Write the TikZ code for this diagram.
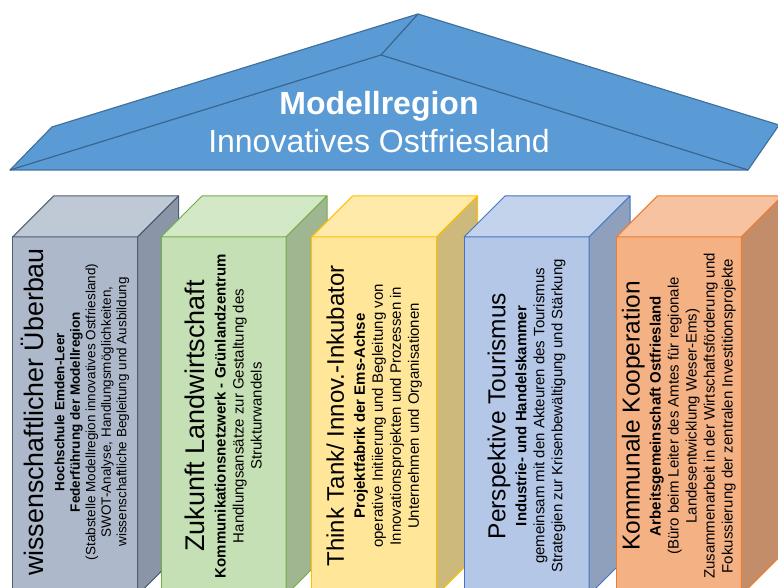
\documentclass[tikz,border=0pt]{standalone}
\usepackage{fontspec}
\setmainfont{Liberation Sans}
\usepackage{tikz}

\definecolor{dach}{HTML}{5B9BD5}
\definecolor{dachrand}{HTML}{41719C}
\definecolor{grauF}{HTML}{ADB9CA}\definecolor{grauD}{HTML}{BFC9D6}\definecolor{grauS}{HTML}{8A96A8}\definecolor{grauR}{HTML}{4F5D70}
\definecolor{gruenF}{HTML}{C5E0B4}\definecolor{gruenD}{HTML}{D3E8C7}\definecolor{gruenS}{HTML}{9FB690}\definecolor{gruenR}{HTML}{70AD47}
\definecolor{gelbF}{HTML}{FFE699}\definecolor{gelbD}{HTML}{FFEAAA}\definecolor{gelbS}{HTML}{CCB97B}\definecolor{gelbR}{HTML}{FFC000}
\definecolor{blauF}{HTML}{B4C7E7}\definecolor{blauD}{HTML}{C4D3EC}\definecolor{blauS}{HTML}{8FA0BC}\definecolor{blauR}{HTML}{4472C4}
\definecolor{orangeF}{HTML}{F4B183}\definecolor{orangeD}{HTML}{F6C29F}\definecolor{orangeS}{HTML}{C38D69}\definecolor{orangeR}{HTML}{ED7D31}

\newcommand{\titel}[2][27]{{\fontsize{#1}{#1}\selectfont #2}}

\tikzset{
  saeulentext/.style={rotate=90,align=center,inner sep=0pt,font=\fontsize{15}{18}\selectfont},
  dachtext/.style={align=center,inner sep=0pt,text=white,font=\fontsize{32}{38}\selectfont},
}

\begin{document}
\begin{tikzpicture}[x=1pt,y=1pt,line join=round]
\useasboundingbox (0,0) rectangle (778,588);

% Dach
\draw[dachrand,fill=dach,line width=1.2pt] (10,418)--(52,461)--(418,574)--(779,463)--(748,418)--cycle;
\draw[dachrand!90!black,line width=1.2pt] (10,418)--(381,533)--(748,418) (381,533)--(418,574);
\node[dachtext] (modell) at (379,466) {\textbf{Modellregion}\\Innovatives Ostfriesland};

% Saeulen, von links nach rechts
\foreach \x/\farbe in {12.7/grau,161/gruen,311.7/gelb,464/blau,616.3/orange}{
  \draw[\farbe R,fill=\farbe F,line width=1pt] (\x,-7) rectangle ++(125,358);
  \draw[\farbe R,fill=\farbe D,line width=1pt] (\x,351)--++(41,41)--++(125,0)--++(-41,-41)--cycle;
  \draw[\farbe R,fill=\farbe S,line width=1pt] (\x+125,351)--++(41,41)--++(0,-358)--++(-41,-41)--cycle;
}

\node[saeulentext,font=\fontsize{13.5}{15.5}\selectfont] (wiss) at (75.2,176) {\titel[26.8]{wissenschaftlicher Überbau}\\[5pt]
  \textbf{Hochschule Emden-Leer}\\
  \textbf{Federführung der Modellregion}\\
  (Stabstelle Modellregion innovatives Ostfriesland)\\
  SWOT-Analyse, Handlungsmöglichkeiten,\\
  wissenschaftliche Begleitung und Ausbildung};
\node[saeulentext] (land) at (223.5,172) {\titel{Zukunft Landwirtschaft}\\[3pt]
  \textbf{Kommunikationsnetzwerk - Grünlandzentrum}\\
  Handlungsansätze zur Gestaltung des\\
  Strukturwandels};
\node[saeulentext] (think) at (374.2,172) {\titel[24]{Think Tank/ Innov.-Inkubator}\\[3pt]
  \textbf{Projektfabrik der Ems-Achse}\\
  operative Initiierung und Begleitung von\\
  Innovationsprojekten und Prozessen in\\
  Unternehmen und Organisationen};
\node[saeulentext] (tour) at (526.5,172) {\titel[24.5]{Perspektive Tourismus}\\[3pt]
  \textbf{Industrie- und Handelskammer}\\
  gemeinsam mit den Akteuren des Tourismus\\
  Strategien zur Krisenbewältigung und Stärkung};
\node[saeulentext] (komm) at (678.8,172) {\titel[24.5]{Kommunale Kooperation}\\[3pt]
  \textbf{Arbeitsgemeinschaft Ostfriesland}\\
  (Büro beim Leiter des Amtes für regionale\\
  Landesentwicklung Weser-Ems)\\
  Zusammenarbeit in der Wirtschaftsförderung und\\
  Fokussierung der zentralen Investitionsprojekte};
\end{tikzpicture}
\end{document}
